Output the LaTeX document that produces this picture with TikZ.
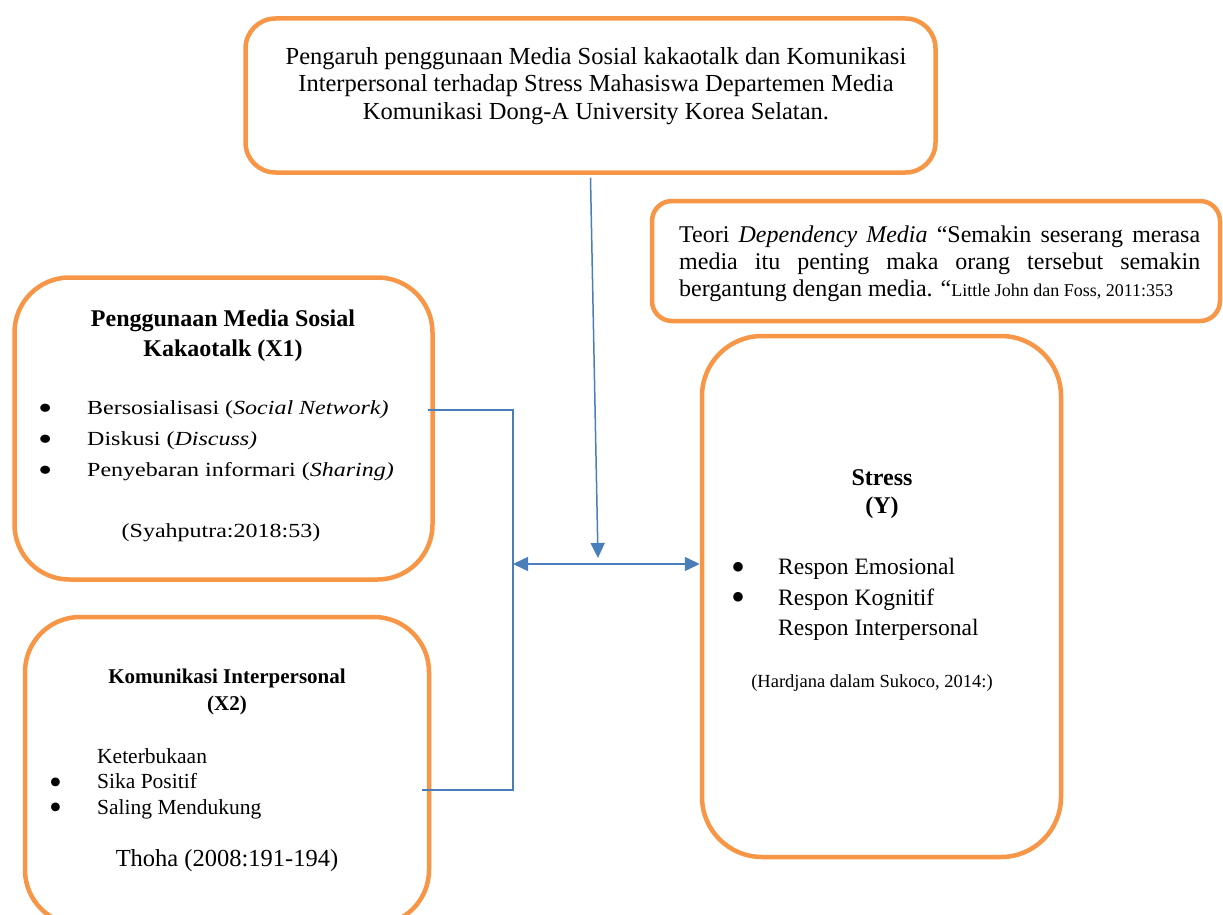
\documentclass[tikz,border=0pt]{standalone}
\usepackage{fontspec}
\setmainfont{Liberation Serif}
\newfontfamily\widefont{Liberation Serif}[FakeStretch=1.2]
\usetikzlibrary{positioning,arrows.meta,calc}
\definecolor{FrameOrange}{HTML}{F79646}
\definecolor{LinkBlue}{HTML}{4A7EBB}
\newcommand{\bul}[1]{\makebox[#1][l]{\smash{\raisebox{-0.25em}{\scalebox{1.7}{\textbullet}}}}}

\begin{document}
\begin{tikzpicture}[
  x=1pt,y=-1pt,
  frame/.style={draw=FrameOrange,line width=4.5pt,inner sep=0pt},
  txt/.style={inner sep=0pt,align=center,font=\fontsize{24.5}{27.5}\selectfont},
  link/.style={draw=LinkBlue,line width=1.5pt},
  arr/.style={link,-{Triangle[length=15pt,width=14pt]}},
  darr/.style={link,{Triangle[length=15pt,width=14pt]}-{Triangle[length=15pt,width=14pt]}}
]
\useasboundingbox (0,0) rectangle (1223,915);
% frames
\node[frame,rounded corners=30pt,minimum width=690pt,minimum height=154pt] (title) at (590.5,95.5) {};
\node[frame,rounded corners=20pt,minimum width=568pt,minimum height=120pt] (theory) at (936,261) {};
\node[frame,rounded corners=55pt,minimum width=418pt,minimum height=302pt] (xone) at (223.5,428.5) {};
\node[frame,rounded corners=55pt,minimum width=404pt,minimum height=308pt] (xtwo) at (227,771) {};
\node[frame,rounded corners=60pt,minimum width=359pt,minimum height=521pt] (stress) at (881.5,596.5) {};
% texts
\node[txt,anchor=north] (titletext) at (596,47) {Pengaruh penggunaan Media Sosial kakaotalk dan Komunikasi\\Interpersonal terhadap Stress Mahasiswa Departemen Media\\Komunikasi Dong-A University Korea Selatan.};
\node[txt,text width=521pt,align=justify,anchor=north west,font=\fontsize{24}{27}\selectfont] (theorytext) at (679,225.5) {Teori \textit{Dependency Media} “Semakin seserang merasa\linebreak media itu penting maka orang tersebut semakin\linebreak bergantung dengan media. “{\fontsize{18}{27}\selectfont Little John dan Foss, 2011:353}};
\node[txt,anchor=north,font=\bfseries\fontsize{24}{30}\selectfont] (xonehead) at (223,309.5) {Penggunaan Media Sosial\\Kakaotalk (X1)};
\node[txt,align=left,anchor=north west,font=\widefont\fontsize{20}{31}\selectfont] (xonelist) at (38,400) {\bul{49pt}Bersosialisasi (\textit{Social Network)}\\\bul{49pt}Diskusi (\textit{Discuss)}\\\bul{49pt}Penyebaran informari (\textit{Sharing)}};
\node[txt,anchor=base,font=\widefont\fontsize{20}{24}\selectfont] (xonecite) at (221,537) {(Syahputra:2018:53)};
\node[txt,anchor=north,font=\bfseries\fontsize{21}{27}\selectfont] (xtwohead) at (227,668.7) {Komunikasi Interpersonal\\(X2)};
\node[txt,align=left,anchor=north west,font=\fontsize{21.5}{25.5}\selectfont] (xtwolist) at (49,748) {\makebox[48pt]{}Keterbukaan\\\bul{48pt}Sika Positif\\\bul{48pt}Saling Mendukung};
\node[txt,anchor=base] (xtwocite) at (227,866) {Thoha (2008:191-194)};
\node[txt,anchor=north,font=\bfseries\fontsize{24}{28}\selectfont] (stresshead) at (882,469.5) {Stress\\(Y)};
\node[txt,align=left,anchor=north west,font=\fontsize{23.5}{30.5}\selectfont] (stresslist) at (731,558) {\bul{47pt}Respon Emosional\\\bul{47pt}Respon Kognitif\\\makebox[47pt]{}Respon Interpersonal};
\node[txt,anchor=base,font=\fontsize{18.5}{22}\selectfont] (stresscite) at (872,687) {(Hardjana dalam Sukoco, 2014:)};
% connectors
\coordinate (xoneout) at (428,410);
\coordinate (xtwoout) at (422,790);
\coordinate (jn) at (513,564);
\coordinate (drop) at (598,558);
\draw[link] (xoneout) -- (xoneout -| jn) -- (xtwoout -| jn) -- (xtwoout);
\draw[arr] ($(title.south)+(0,3)$) -- (drop);
\draw[darr] (jn) -- (jn -| stress.west);
\end{tikzpicture}
\end{document}
